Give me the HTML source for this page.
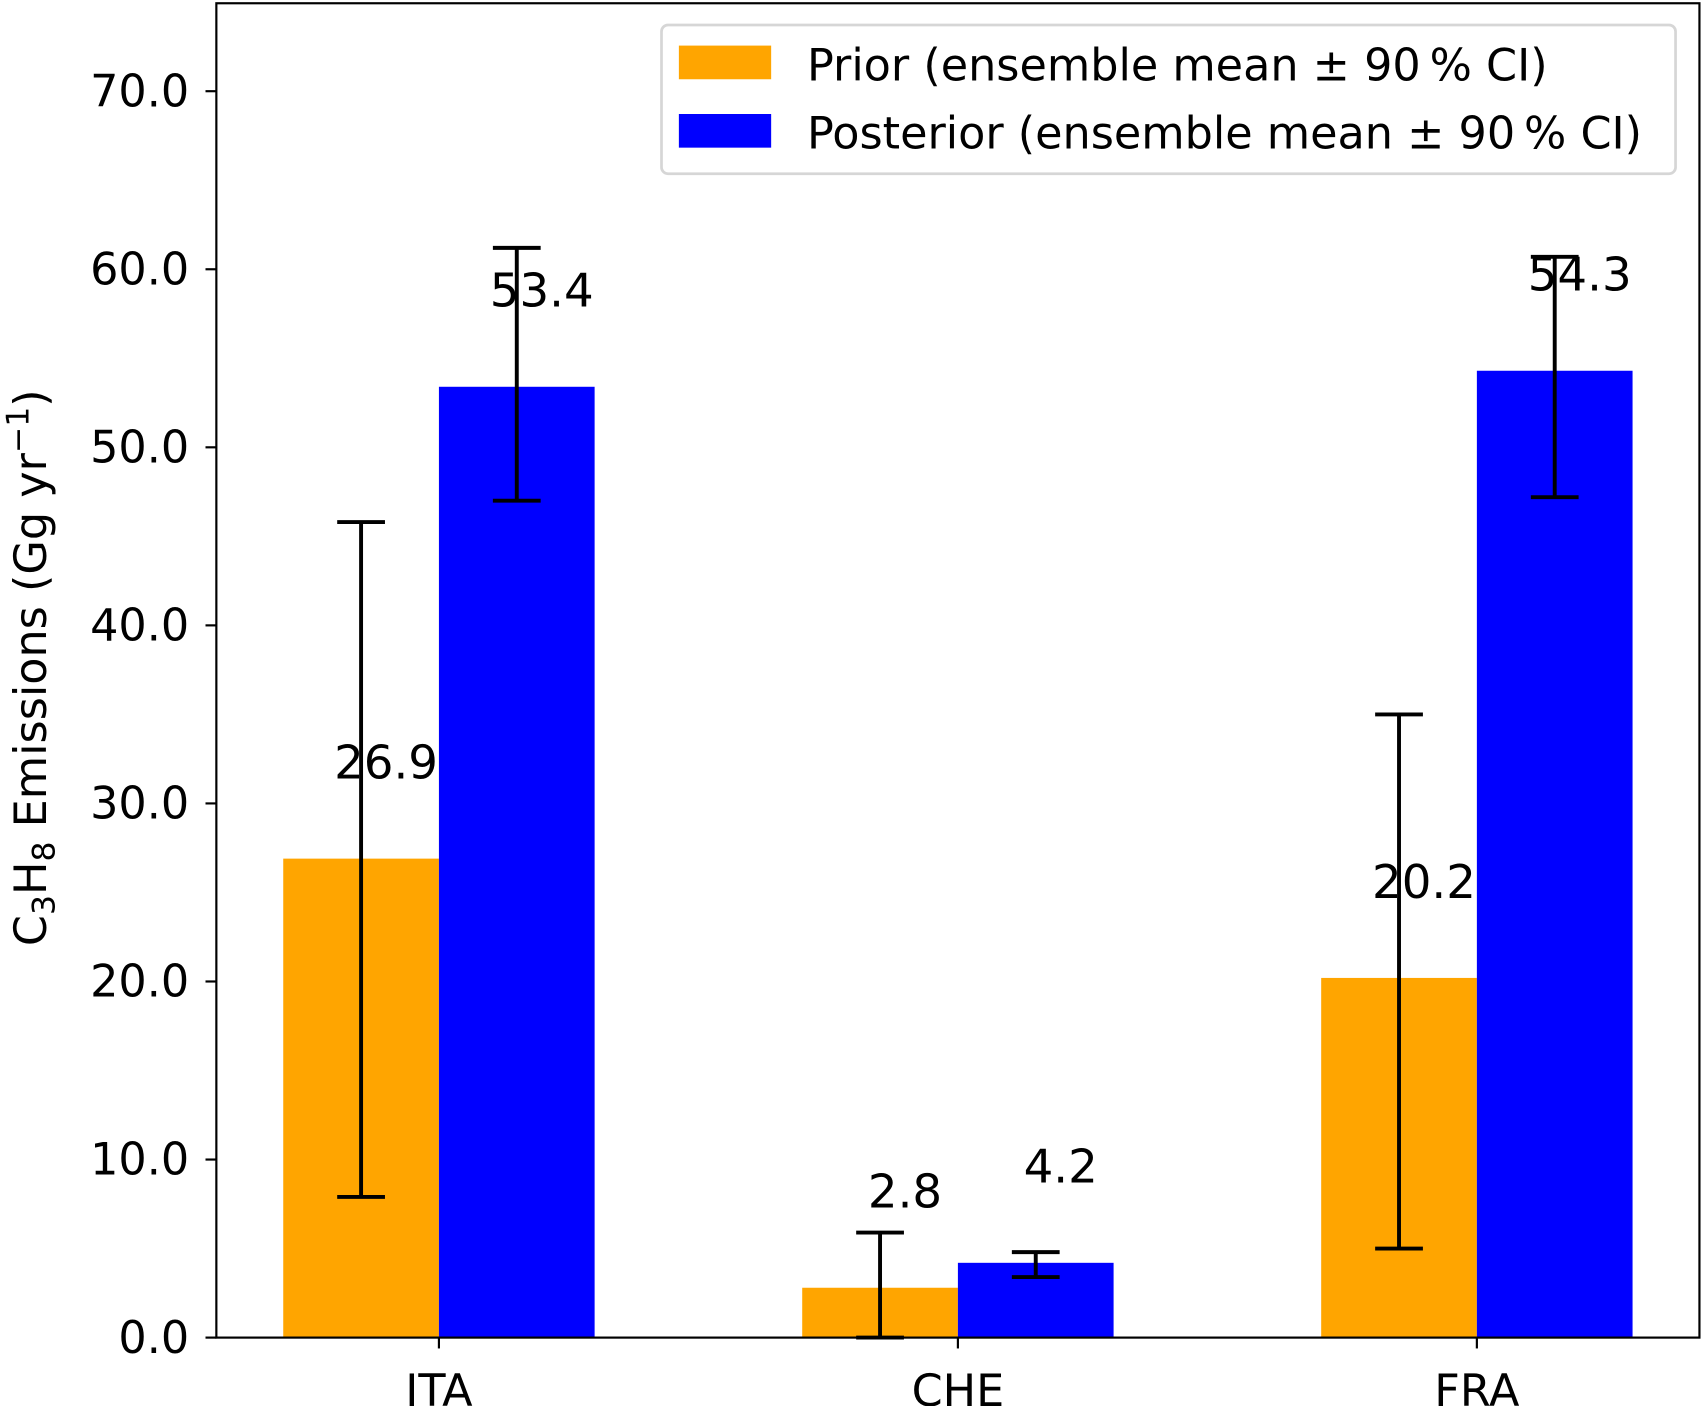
<!DOCTYPE html>
<html><head><meta charset="utf-8"><style>html,body{margin:0;padding:0;background:#fff}svg{display:block}text{font-family:"DejaVu Sans","Liberation Sans",sans-serif}</style></head>
<body>
<svg id="chart" width="1703" height="1406" viewBox="0 0 1568 1295" xmlns="http://www.w3.org/2000/svg"></svg>
<script>
const categories = ["ITA", "CHE", "FRA"];
const priorValues = [26.9, 2.8, 20.2];
const priorLow = [7.9, 0.0, 5.0];
const priorHigh = [45.8, 5.9, 35.0];
const posteriorValues = [53.4, 4.2, 54.3];
const posteriorLow = [47.0, 3.4, 47.2];
const posteriorHigh = [61.2, 4.8, 60.7];
const yTicks = [0, 10, 20, 30, 40, 50, 60, 70];

const NS = "http://www.w3.org/2000/svg";
const svg = document.getElementById("chart");
const L = 199, R = 1565, T = 3, B = 1232;
function y(v) { return B - v / 70 * (B - 84); }
function x(i) { return 404 + 478 * i; }
const bw = 143.4;
function mk(tag, attrs, parent) {
  const e = document.createElementNS(NS, tag);
  for (const k in attrs) e.setAttribute(k, attrs[k]);
  (parent || svg).appendChild(e);
  return e;
}
const font = 41;
categories.forEach((c, i) => {
  const cx = x(i);
  const pb = mk("rect", {x: cx - bw, y: y(priorValues[i]), width: bw, height: B - y(priorValues[i]), fill: "#ffa500"});
  
  
  const qb = mk("rect", {x: cx, y: y(posteriorValues[i]), width: bw, height: B - y(posteriorValues[i]), fill: "#0000ff"});
  
  
});
function err(cx, lo, hi, name) {
  const g = mk("g", {stroke: "#000", "stroke-width": 3.6});
  
  
  mk("line", {x1: cx, x2: cx, y1: y(lo), y2: y(hi)}, g);
  mk("line", {x1: cx - 22, x2: cx + 22, y1: y(lo), y2: y(lo)}, g);
  mk("line", {x1: cx - 22, x2: cx + 22, y1: y(hi), y2: y(hi)}, g);
}
function lab(cx, v, name) {
  const t = mk("text", {x: cx + 23, y: y(v + 4.5), "text-anchor": "middle", "font-size": 43, fill: "#000"});
  t.textContent = v.toFixed(1);
  
  
}
categories.forEach((c, i) => {
  const pc = x(i) - bw / 2, qc = x(i) + bw / 2;
  err(pc, priorLow[i], priorHigh[i], 'prior-errorbar-' + c.toLowerCase());
  err(qc, posteriorLow[i], posteriorHigh[i], 'posterior-errorbar-' + c.toLowerCase());
  lab(pc, priorValues[i], 'prior-value-label-' + c.toLowerCase());
  lab(qc, posteriorValues[i], 'posterior-value-label-' + c.toLowerCase());
});
const frame = mk("rect", {x: L, y: T, width: R - L, height: B - T, fill: "none", stroke: "#000", "stroke-width": 2});


yTicks.forEach(v => {
  const tk = mk("line", {x1: L - 10, x2: L, y1: y(v), y2: y(v), stroke: "#000", "stroke-width": 2});
  
  
  const t = mk("text", {x: L - 25, y: y(v) + 14, "text-anchor": "end", "font-size": font, fill: "#000"});
  t.textContent = v.toFixed(1);
  
  
});
categories.forEach((c, i) => {
  const tk = mk("line", {x1: x(i), x2: x(i), y1: B, y2: B + 10, stroke: "#000", "stroke-width": 2});
  
  
  const t = mk("text", {x: x(i), y: 1295, "text-anchor": "middle", "font-size": font, fill: "#000"});
  t.textContent = c;
  
  
});
const yt = mk("text", {transform: "translate(42,615) rotate(-90)", "text-anchor": "middle", "font-size": font, fill: "#000"});


yt.innerHTML = 'C<tspan font-size="29" dy="8">3</tspan><tspan dy="-8">H</tspan><tspan font-size="29" dy="8">8</tspan><tspan dy="-8"> Emissions (Gg yr</tspan><tspan font-size="29" dy="-16">−1</tspan><tspan dy="16">)</tspan>';
const lg = mk("g", {});


mk("rect", {x: 609, y: 23, width: 934, height: 137, rx: 6, fill: "#fff", stroke: "#d6d6d6", "stroke-width": 2.5}, lg);
const e1 = mk("rect", {x: 625, y: 42, width: 85, height: 31, fill: "#ffa500"}, lg);


const t1 = mk("text", {x: 743, y: 74, "font-size": font, fill: "#000"}, lg);
t1.textContent = "Prior (ensemble mean ± 90\u2009% CI)";


const e2 = mk("rect", {x: 625, y: 105, width: 85, height: 31, fill: "#0000ff"}, lg);


const t2 = mk("text", {x: 743, y: 137, "font-size": font, fill: "#000"}, lg);
t2.textContent = "Posterior (ensemble mean ± 90\u2009% CI)";


</script>
</body></html>
